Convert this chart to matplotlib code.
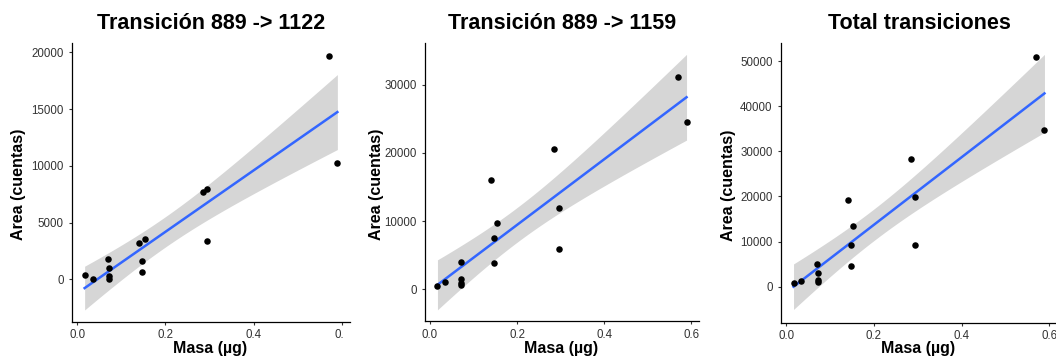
import numpy as np
import matplotlib
matplotlib.use("Agg")
import matplotlib.pyplot as plt
from matplotlib.transforms import Affine2D, Bbox

plt.rcParams["font.family"] = ["Liberation Sans", "DejaVu Sans"]

# ---------------- data ----------------
mass = [0.017, 0.035, 0.070, 0.072, 0.072, 0.072, 0.141, 0.147, 0.147, 0.153,
        0.284, 0.295, 0.295, 0.569, 0.589]
area_1122 = [380, 30, 1820, 1000, 300, 50, 3170, 1650, 620, 3580,
             7720, 7960, 3410, 19710, 10280]
area_1159 = [440, 1120, 3960, 1470, 880, 640, 16020, 7470, 3910, 9770,
             20570, 11970, 5910, 31120, 24520]
area_total = [890, 1250, 5100, 3100, 1480, 1100, 19130, 9230, 4650, 13440,
              28290, 19870, 9230, 50810, 34790]

titles = ["Transición 889 -> 1122", "Transición 889 -> 1159", "Total transiciones"]
x_label = "Masa (µg)"
y_label = "Area (cuentas)"
x_ticks = [0.0, 0.2, 0.4, 0.6]
x_tick_labels = ["0.0", "0.2", "0.4", "0.6"]
y_ticks_1122 = [0, 5000, 10000, 15000, 20000]
y_ticks_1159 = [0, 10000, 20000, 30000]
y_ticks_total = [0, 10000, 20000, 30000, 40000, 50000]

T_CRIT = 2.1604  # t(0.975, df = 13)

# ---------------- layout ----------------
W, H = 1056, 364
fig = plt.figure(figsize=(W / 100, H / 100), dpi=100)
pix = Affine2D().scale(1, -1).translate(0, H)

panels = [
    dict(title=titles[0], y=area_1122, yticks=y_ticks_1122, ylim=(-3760, 20790),
         box=(72, 350, 43.3, 322), ylab_x=18.5, clip=(0, 344)),
    dict(title=titles[1], y=area_1159, yticks=y_ticks_1159, ylim=(-4650, 36070),
         box=(425, 699, 43.3, 321), ylab_x=376, clip=(350, 700)),
    dict(title=titles[2], y=area_total, yticks=y_ticks_total, ylim=(-7980, 53930),
         box=(781, 1057, 43.3, 322.7), ylab_x=729, clip=(700, 1056)),
]

x = np.array(mass)
xlim = (-0.0116, 0.6176)
ink = "#333333"

for p in panels:
    l, r, t, b = p["box"]
    ax = fig.add_axes([l / W, (H - b) / H, (r - l) / W, (b - t) / H])
    y = np.array(p["y"], dtype=float)
    n = len(x)
    slope, intercept = np.polyfit(x, y, 1)
    resid = y - (slope * x + intercept)
    s = np.sqrt(np.sum(resid ** 2) / (n - 2))
    xs = np.linspace(x.min(), x.max(), 100)
    fit = slope * xs + intercept
    se = s * np.sqrt(1 / n + (xs - x.mean()) ** 2 / np.sum((x - x.mean()) ** 2))
    ax.fill_between(xs, fit - T_CRIT * se, fit + T_CRIT * se,
                    color="#999999", alpha=0.4, lw=0, zorder=1)
    ax.plot(xs, fit, color="#3366FF", lw=1.8, zorder=2)
    ax.scatter(x, y, s=22, color="black", lw=0, zorder=3)

    ax.set_xlim(*xlim)
    ax.set_ylim(*p["ylim"])
    ax.set_xticks(x_ticks)
    ax.set_xticklabels(x_tick_labels)
    ax.set_yticks(p["yticks"])
    ax.set_yticklabels([str(v) for v in p["yticks"]])
    for side in ("top", "right"):
        ax.spines[side].set_visible(False)
    for side in ("left", "bottom"):
        ax.spines[side].set_linewidth(0.9)
        ax.spines[side].set_color("black")
    ax.tick_params(axis="both", length=2.4, width=0.8, color=ink,
                   labelcolor=ink, labelsize=8.3)
    ax.tick_params(axis="x", pad=3.0)
    ax.tick_params(axis="y", pad=3.6)

    ax.set_title(p["title"], fontsize=15.5, fontweight="bold", pad=10.3)
    ax.set_xlabel(x_label, fontsize=11.5, fontweight="bold")
    ax.xaxis.set_label_coords((l + r) / 2 - 1, 341.5, transform=pix)
    ax.set_ylabel(y_label, fontsize=11.5, fontweight="bold")
    ax.yaxis.set_label_coords(p["ylab_x"], (t + b) / 2 + 2, transform=pix)
    ax.yaxis.label.set_va("center")

    cl, cr = p["clip"]
    clipbox = Bbox.from_extents(cl, 0, cr, H)
    for lab in ax.get_xticklabels():
        lab.set_clip_box(clipbox)
        lab.set_clip_on(True)

fig.savefig("out.png", dpi=100)
